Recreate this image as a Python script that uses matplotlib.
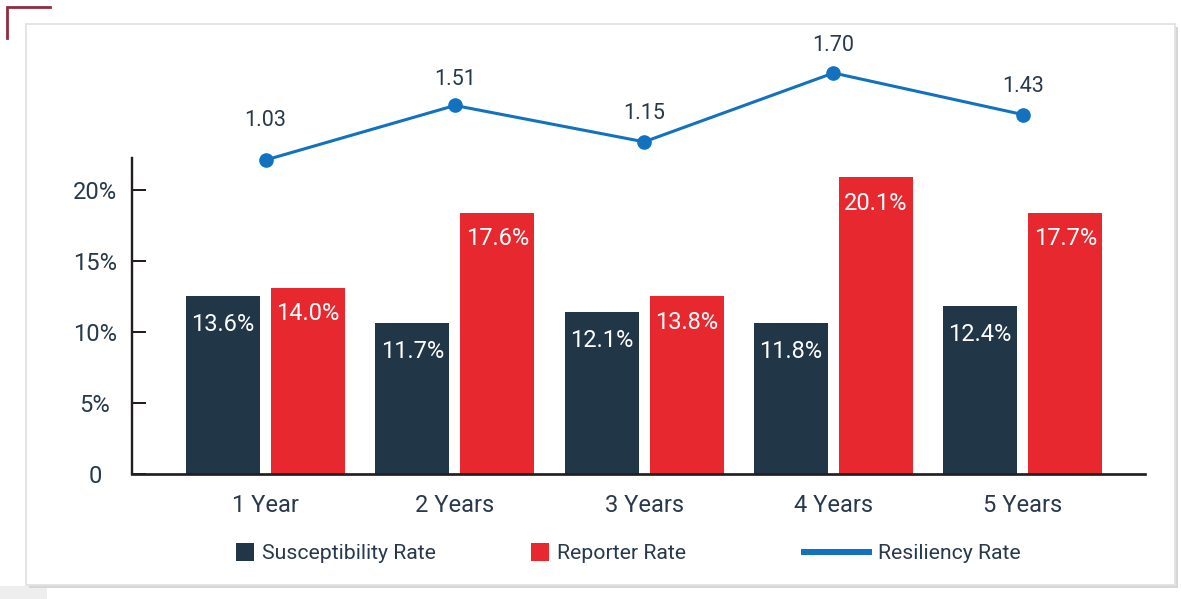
import numpy as np
import matplotlib.pyplot as plt
from matplotlib.patches import Rectangle
from matplotlib.lines import Line2D

plt.rcParams['font.family'] = ['Roboto', 'DejaVu Sans']

# Data (bar heights as drawn, labels as printed)
categories = ["1 Year", "2 Years", "3 Years", "4 Years", "5 Years"]
susceptibility = [12.5, 10.6, 11.4, 10.6, 11.8]
reporter = [13.1, 18.4, 12.5, 20.9, 18.4]
susceptibility_labels = ["13.6%", "11.7%", "12.1%", "11.8%", "12.4%"]
reporter_labels = ["14.0%", "17.6%", "13.8%", "20.1%", "17.7%"]
resiliency = [1.03, 1.45, 1.17, 1.70, 1.38]
resiliency_labels = ["1.03", "1.51", "1.15", "1.70", "1.43"]
y_ticks = [0, 5, 10, 15, 20]
y_tick_labels = ["0", "5%", "10%", "15%", "20%"]

# Colours
DARK = "#213646"
RED = "#e8282f"
BLUE = "#1272bf"
TEXT = "#27394b"
AXIS = "#231f20"

W, H = 1181, 599
PX = 72 / 100  # points per pixel at dpi 100

fig = plt.figure(figsize=(W / 100, H / 100), dpi=100)
fig.patch.set_facecolor("white")


def fx(x):
    return x / W


def fy(y):
    return 1 - y / H


# Card background with shadow
fig.add_artist(Rectangle((fx(0), fy(599)), fx(47), 13 / H, transform=fig.transFigure,
                         facecolor="#eeeeee", edgecolor="none", zorder=-4))
fig.add_artist(Rectangle((fx(29), fy(588)), fx(1149), (588 - 27) / H, transform=fig.transFigure,
                         facecolor="#d6d6d6", edgecolor="none", zorder=-3))
fig.add_artist(Rectangle((fx(26), fy(585)), fx(1149), (585 - 24) / H, transform=fig.transFigure,
                         facecolor="white", edgecolor="#e2e2e2", linewidth=1.3, zorder=-2))
fig.add_artist(Line2D([fx(50), fx(7), fx(7)], [fy(7), fy(7), fy(38)], transform=fig.transFigure,
                      color="#922b3e", linewidth=2.0, solid_joinstyle="miter"))

# Main bar axes
left, right, top, bottom = 132, 1145, 158, 474
ax = fig.add_axes([fx(left), fy(bottom), fx(right - left), (bottom - top) / H])
ax.patch.set_alpha(0)

x = np.arange(len(categories))
width = 0.391
offset = 0.2245
ax.bar(x - offset, susceptibility, width, color=DARK)
ax.bar(x + offset, reporter, width, color=RED)

for xi, h, lab in zip(x - offset, susceptibility, susceptibility_labels):
    ax.annotate(lab, (xi, h), xytext=(0, -28 * PX), textcoords="offset points",
                ha="center", va="center", color="white", fontsize=17)
for xi, h, lab in zip(x + offset, reporter, reporter_labels):
    ax.annotate(lab, (xi, h), xytext=(0, -26 * PX), textcoords="offset points",
                ha="center", va="center", color="white", fontsize=17)

ax.set_xlim(-0.706, 4.646)
ax.set_ylim(0, 22.25)
ax.set_yticks(y_ticks)
ax.set_yticklabels(y_tick_labels)
ax.set_xticks(x)
ax.set_xticklabels(categories)
ax.tick_params(axis="y", direction="in", length=14 * PX, width=2 * PX, color=AXIS,
               pad=37 * PX, labelsize=17, labelcolor=TEXT)
ax.tick_params(axis="x", length=0, pad=20 * PX, labelsize=17, labelcolor=TEXT)
for t in ax.get_yticklabels():
    t.set_horizontalalignment("center")

for s in ["top", "right"]:
    ax.spines[s].set_visible(False)
ax.spines["left"].set_linewidth(2.4 * PX)
ax.spines["bottom"].set_linewidth(2.7 * PX)
ax.spines["left"].set_color(AXIS)
ax.spines["bottom"].set_color(AXIS)

# Resiliency line sits above the bar area
ltop, lbot = 60, 170
ax_line = fig.add_axes([fx(left), fy(lbot), fx(right - left), (lbot - ltop) / H])
ax_line.set_xlim(ax.get_xlim())
ax_line.set_ylim(0.953, 1.800)
ax_line.axis("off")
ax_line.plot(x, resiliency, color=BLUE, linewidth=2.2, marker="o", markersize=9.5, clip_on=False)
label_offsets = [40, 26, 28, 27, 28]
for xi, v, lab, off in zip(x, resiliency, resiliency_labels, label_offsets):
    ax_line.annotate(lab, (xi, v), xytext=(0, off * PX), textcoords="offset points",
                     ha="center", va="center", color=TEXT, fontsize=15.5)

# Legend drawn by hand
fig.add_artist(Rectangle((fx(236), fy(561)), fx(18), 18 / H, transform=fig.transFigure,
                         facecolor=DARK, edgecolor="none"))
fig.text(fx(262), fy(559), "Susceptibility Rate", ha="left", va="baseline", color=TEXT, fontsize=15.3)
fig.add_artist(Rectangle((fx(531), fy(561)), fx(18), 18 / H, transform=fig.transFigure,
                         facecolor=RED, edgecolor="none"))
fig.text(fx(557), fy(559), "Reporter Rate", ha="left", va="baseline", color=TEXT, fontsize=15.3)
fig.add_artist(Line2D([fx(804), fx(869)], [fy(552), fy(552)], transform=fig.transFigure,
                      color=BLUE, linewidth=6 * PX))
fig.text(fx(878), fy(559), "Resiliency Rate", ha="left", va="baseline", color=TEXT, fontsize=15.3)

fig.savefig("out.png", dpi=100)
